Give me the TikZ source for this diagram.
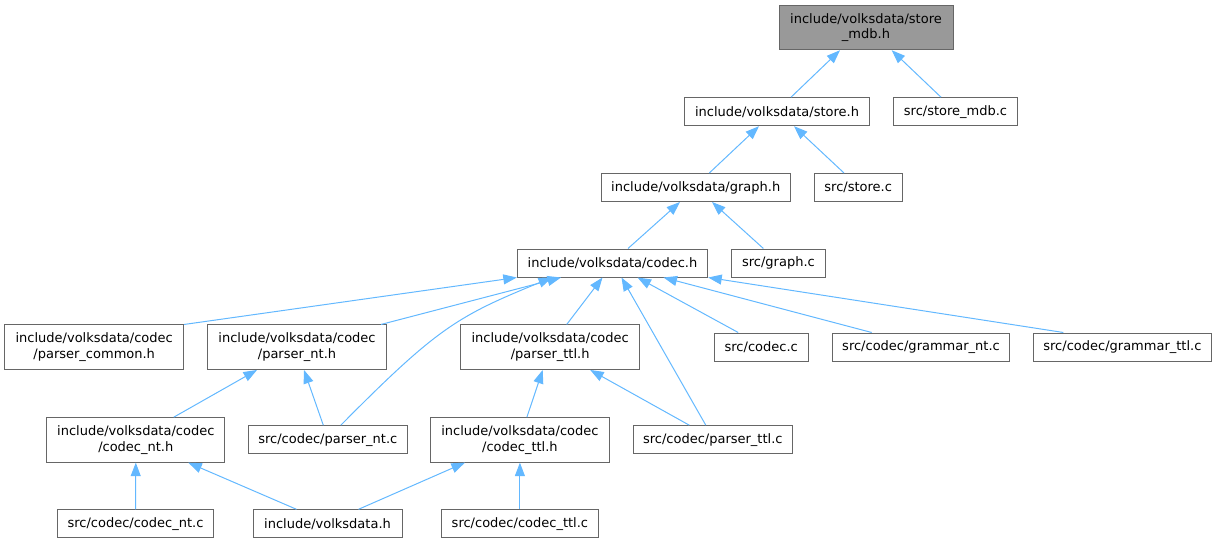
\documentclass[tikz,border=0pt]{standalone}
\usepackage{fontspec}
\setmainfont{DejaVu Sans}
\usetikzlibrary{arrows.meta}
\definecolor{edgeblue}{HTML}{63B8FF}
\definecolor{boxgray}{HTML}{666666}
\definecolor{topgray}{HTML}{999999}
\begin{document}
\begin{tikzpicture}[x=1pt,y=-1pt,
	file/.style={draw=boxgray,line width=1pt,fill=white,inner xsep=2pt,inner ysep=2pt,
		align=center,font=\fontsize{13}{15.5}\selectfont,minimum height=28pt},
	twoline/.style={minimum height=44.5pt},
	edge/.style={draw=edgeblue,line width=1pt,-{Triangle[length=13.5pt,width=10pt]}}]
	\useasboundingbox (0,0) rectangle (1217,543);
	%\draw[gray!50] (0,0) grid[step=50] (1217,543);
	%Hang 1
	\node[file,twoline,fill=topgray,minimum width=174pt] (smdbh) at (866,27.5) {include/volksdata/store\\\_mdb.h};
	%Hang 2
	\node[file,minimum width=185pt] (storeh) at (777,111.7) {include/volksdata/store.h};
	\node[file,minimum width=124.4pt] (smdbc) at (955.5,111.7) {src/store\_mdb.c};
	%Hang 3
	\node[file,minimum width=189.3pt] (graphh) at (695.7,187.5) {include/volksdata/graph.h};
	\node[file,minimum width=88.3pt] (storec) at (858.2,187.5) {src/store.c};
	%Hang 4
	\node[file,minimum width=190.4pt] (codech) at (612.5,263) {include/volksdata/codec.h};
	\node[file,minimum width=93.3pt] (graphc) at (778.4,263) {src/graph.c};
	%Hang 5
	\node[file,twoline,minimum width=179pt] (pcommon) at (94.2,347.2) {include/volksdata/codec\\/parser\_common.h};
	\node[file,twoline,minimum width=178.6pt] (pnth) at (297,347.2) {include/volksdata/codec\\/parser\_nt.h};
	\node[file,twoline,minimum width=179pt] (pttlh) at (550.2,347.2) {include/volksdata/codec\\/parser\_ttl.h};
	\node[file,minimum width=94.3pt] (codecc) at (761.2,347) {src/codec.c};
	\node[file,minimum width=177.4pt] (gntc) at (921,347) {src/codec/grammar\_nt.c};
	\node[file,minimum width=178.7pt] (gttlc) at (1122.4,347) {src/codec/grammar\_ttl.c};
	%Hang 6
	\node[file,twoline,minimum width=178.3pt] (cnth) at (135.8,439.9) {include/volksdata/codec\\/codec\_nt.h};
	\node[file,minimum width=159pt] (pntc) at (327.8,439.7) {src/codec/parser\_nt.c};
	\node[file,twoline,minimum width=178.3pt] (cttlh) at (519.9,439.9) {include/volksdata/codec\\/codec\_ttl.h};
	\node[file,minimum width=159pt] (pttlc) at (712.8,439.7) {src/codec/parser\_ttl.c};
	%Hang 7
	\node[file,minimum width=155.3pt] (cntc) at (135.5,523.8) {src/codec/codec\_nt.c};
	\node[file,minimum width=149pt] (vdh) at (327.5,523.8) {include/volksdata.h};
	\node[file,minimum width=156.4pt] (cttlc) at (519.9,523.8) {src/codec/codec\_ttl.c};
	%Mui ten
	\draw[edge] ([xshift=14pt]storeh.north) -- ([xshift=-26pt]smdbh.south);
	\draw[edge] ([xshift=-14.5pt]smdbc.north) -- ([xshift=25.7pt]smdbh.south);
	\draw[edge] ([xshift=13.6pt]graphh.north) -- ([xshift=-18pt]storeh.south);
	\draw[edge] ([xshift=-14.2pt]storec.north) -- ([xshift=17pt]storeh.south);
	\draw[edge] ([xshift=15.5pt]codech.north) -- ([xshift=-15.7pt]graphh.south);
	\draw[edge] ([xshift=-15pt]graphc.north) -- ([xshift=16.3pt]graphh.south);
	\draw[edge] (pcommon.north east) -- (codech.south west);
	\draw[edge] ([xshift=84pt]pnth.north) -- ([xshift=-51.5pt]codech.south);
	\draw[edge] ([xshift=13pt]pntc.north) .. controls (438,327) and (458,316) .. ([xshift=-60.5pt]codech.south);
	\draw[edge] ([xshift=16.5pt]pttlh.north) -- ([xshift=-10pt]codech.south);
	\draw[edge] ([xshift=-7pt]pttlc.north) -- ([xshift=9pt]codech.south);
	\draw[edge] ([xshift=-23pt]codecc.north) -- ([xshift=25pt]codech.south);
	\draw[edge] ([xshift=-49.3pt]gntc.north) -- ([xshift=51pt]codech.south);
	\draw[edge] ([xshift=-59pt]gttlc.north) -- (codech.south east);
	\draw[edge] ([xshift=38pt]cnth.north) -- ([xshift=-40pt]pnth.south);
	\draw[edge] ([xshift=-4.5pt]pntc.north) -- ([xshift=7pt]pnth.south);
	\draw[edge] ([xshift=7pt]cttlh.north) -- ([xshift=-7.5pt]pttlh.south);
	\draw[edge] ([xshift=-23.5pt]pttlc.north) -- ([xshift=40pt]pttlh.south);
	\draw[edge] (cntc.north) -- (cnth.south);
	\draw[edge] ([xshift=-31pt]vdh.north) -- ([xshift=52.5pt]cnth.south);
	\draw[edge] ([xshift=31pt]vdh.north) -- ([xshift=-55pt]cttlh.south);
	\draw[edge] (cttlc.north) -- (cttlh.south);
\end{tikzpicture}
\end{document}
